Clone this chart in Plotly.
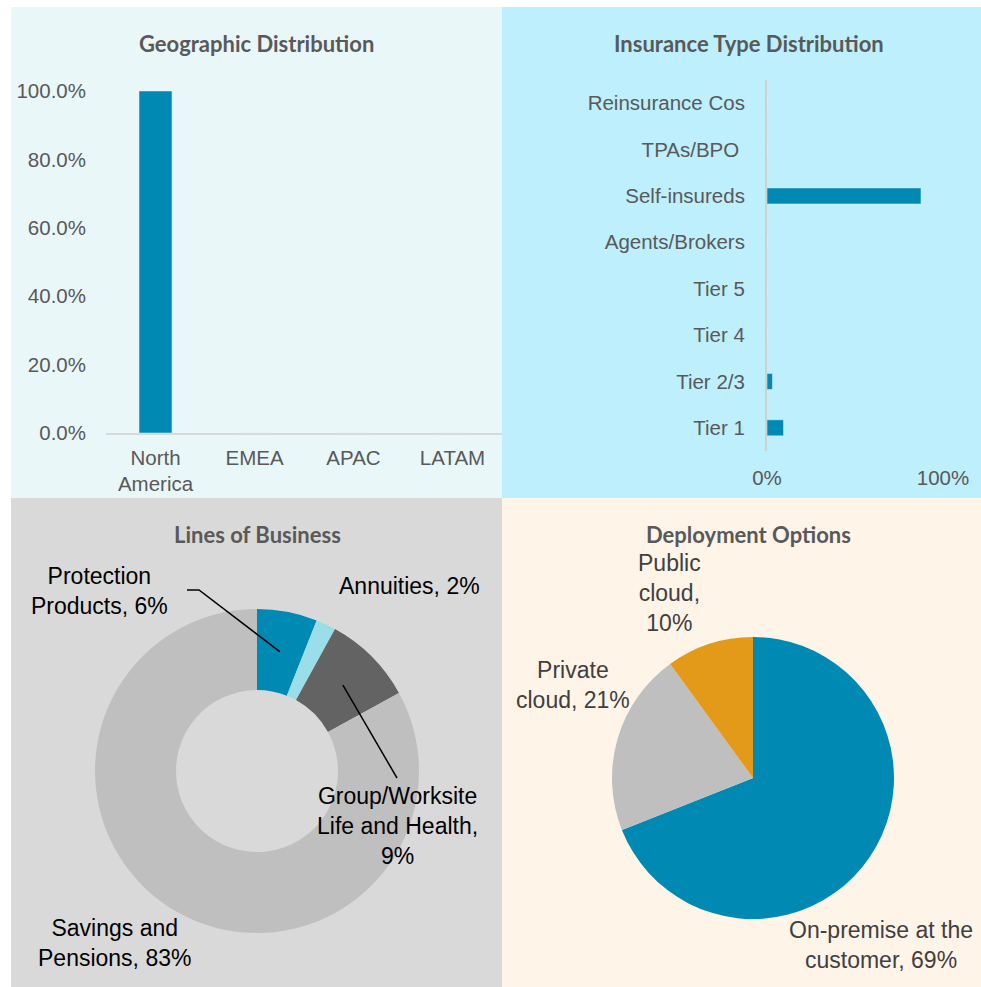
import math
import plotly.graph_objects as go

# ---------------- data ----------------
geo_regions = ["North<br>America", "EMEA", "APAC", "LATAM"]
geo_share = [1.0, 0.0, 0.0, 0.0]

ins_types = ["Tier 1", "Tier 2/3", "Tier 4", "Tier 5", "Agents/Brokers",
             "Self-insureds", "TPAs/BPO ", "Reinsurance Cos"]
ins_share = [0.094, 0.031, 0.0, 0.0, 0.0, 0.875, 0.0, 0.0]

lob_labels = ["Protection Products", "Annuities",
              "Group/Worksite Life and Health", "Savings and Pensions"]
lob_share = [6, 2, 9, 83]

dep_labels = ["On-premise at the customer", "Private cloud", "Public cloud"]
dep_share = [69, 21, 10]

# ---------------- layout helpers ----------------
W, H = 981, 987
BLUE = "#008AB3"
TXT = "#595959"
LABEL_FONT = "Liberation Sans, Arial, sans-serif"
TITLE_FONT = "Lato, Calibri, sans-serif"


def px(x):
    return x / W


def py(y):
    return 1 - y / H


fig = go.Figure()

# Top-left: geographic distribution
fig.add_trace(go.Bar(
    x=geo_regions, y=geo_share, marker_color=BLUE, width=0.333,
    xaxis="x", yaxis="y", showlegend=False, hoverinfo="x+y"))

# Top-right: insurance type distribution
fig.add_trace(go.Bar(
    y=ins_types, x=ins_share, orientation="h", marker_color=BLUE, width=0.345,
    xaxis="x2", yaxis="y2", showlegend=False))

# Bottom-left: donut
d_cx, d_cy, d_r = 257, 771, 162
d_hole = 0.5
fig.add_trace(go.Pie(
    labels=lob_labels, values=lob_share, hole=d_hole, sort=False,
    direction="clockwise", rotation=0, textinfo="none",
    marker=dict(colors=[BLUE, "#9ADEEA", "#636363", "#BFBFBF"], line=dict(width=0)),
    domain=dict(x=[px(d_cx - d_r), px(d_cx + d_r)], y=[py(d_cy + d_r), py(d_cy - d_r)]),
    showlegend=False))

# Bottom-right: pie
p_cx, p_cy, p_r = 753, 778, 141
fig.add_trace(go.Pie(
    labels=dep_labels, values=dep_share, sort=False,
    direction="clockwise", rotation=0, textinfo="none",
    marker=dict(colors=[BLUE, "#BFBFBF", "#E29A18"], line=dict(width=0)),
    domain=dict(x=[px(p_cx - p_r), px(p_cx + p_r)], y=[py(p_cy + p_r), py(p_cy - p_r)]),
    showlegend=False))

# panel backgrounds
panels = [
    (11, 7, 502, 498, "#EAF7F9"),
    (502, 7, 981, 498, "#BDEFFD"),
    (11, 498, 502, 987, "#D9D9D9"),
    (502, 498, 981, 987, "#FEF4E8"),
]
shapes = []
for x0, y0, x1, y1, c in panels:
    shapes.append(dict(type="rect", xref="paper", yref="paper",
                       x0=px(x0), x1=px(x1), y0=py(y1), y1=py(y0),
                       fillcolor=c, line=dict(width=0), layer="below"))

# leader lines for donut labels (inner end at middle of ring at slice mid-angle)
total = sum(lob_share)
r_mid = d_r * (1 + d_hole) / 2
mids = []
cum = 0
for v in lob_share:
    ang = math.radians((cum + v / 2) / total * 360)
    mids.append((d_cx + r_mid * math.sin(ang), d_cy - r_mid * math.cos(ang)))
    cum += v

p0 = mids[0]
shapes.append(dict(type="path", xref="paper", yref="paper",
                   path=f"M {px(187)} {py(590)} L {px(199)} {py(590)} L {px(p0[0])} {py(p0[1])}",
                   line=dict(color="#000000", width=1.5)))
p2 = mids[2]
shapes.append(dict(type="path", xref="paper", yref="paper",
                   path=f"M {px(p2[0])} {py(p2[1])} L {px(397)} {py(778)}",
                   line=dict(color="#000000", width=1.5)))

annotations = []
# titles
for text, cx, cy in [("Geographic Distribution", 256, 43),
                     ("Insurance Type Distribution", 749, 43),
                     ("Lines of Business", 257, 534),
                     ("Deployment Options", 748, 534)]:
    annotations.append(dict(text=f"<b>{text}</b>", x=px(cx), y=py(cy), xref="paper", yref="paper",
                            showarrow=False, xanchor="center", yanchor="middle",
                            font=dict(family=TITLE_FONT, size=22, color=TXT)))

# donut labels
lob_wrap = ["Protection<br>Products", "Annuities", "Group/Worksite<br>Life and Health", "Savings and<br>Pensions"]
lob_sep = [", ", ", ", ",<br>", ", "]
lob_pos = [(99, 591), (409, 586), (397, 826), (114, 943)]
for name, sep, v, (cx, cy) in zip(lob_wrap, lob_sep, lob_share, lob_pos):
    annotations.append(dict(text=f"{name}{sep}{v}%", x=px(cx), y=py(cy), xref="paper", yref="paper",
                            showarrow=False, xanchor="center", yanchor="middle", align="center",
                            font=dict(family=LABEL_FONT, size=23, color="#000000")))

# pie labels
dep_wrap = ["On-premise at the<br>customer", "Private<br>cloud", "Public<br>cloud"]
dep_sep = [", ", ", ", ",<br>"]
dep_pos = [(881, 945), (573, 685), (669, 593)]
for name, sep, v, (cx, cy) in zip(dep_wrap, dep_sep, dep_share, dep_pos):
    annotations.append(dict(text=f"{name}{sep}{v}%", x=px(cx), y=py(cy), xref="paper", yref="paper",
                            showarrow=False, xanchor="center", yanchor="middle", align="center",
                            font=dict(family=LABEL_FONT, size=23, color="#404040")))

axis_font = dict(family=LABEL_FONT, size=20.5, color=TXT)

fig.update_layout(
    width=W, height=H, margin=dict(l=0, r=0, t=0, b=0, autoexpand=False),
    paper_bgcolor="white", plot_bgcolor="rgba(0,0,0,0)",
    shapes=shapes, annotations=annotations,
    xaxis=dict(domain=[px(106), px(502)], anchor="y", showline=True, linecolor="#D9D9D9",
               linewidth=2, showgrid=False, zeroline=False, tickfont=axis_font,
               ticks="", ticklabelstandoff=5, fixedrange=True, automargin=False),
    yaxis=dict(domain=[py(433), py(91)], anchor="x", range=[0, 1], dtick=0.2,
               tickformat=".1%", showline=False, showgrid=False, zeroline=False,
               tickfont=axis_font, ticks="", ticklabelstandoff=19, fixedrange=True,
               automargin=False),
    xaxis2=dict(domain=[px(767), px(943)], anchor="y2", range=[0, 1], dtick=1,
                tickformat=".0%", showline=False, showgrid=False, zeroline=False,
                tickfont=axis_font, ticks="", ticklabelstandoff=12, fixedrange=True,
                automargin=False),
    yaxis2=dict(domain=[py(451), py(80)], anchor="x2", showline=True, linecolor="#D0D0D0",
                linewidth=2, showgrid=False, zeroline=False, tickfont=axis_font,
                ticks="", ticklabelstandoff=16, fixedrange=True, automargin=False),
)

fig.write_html("out.html", config={"displayModeBar": False},
               post_script="document.body.style.margin='0px';document.body.style.overflow='hidden';")
